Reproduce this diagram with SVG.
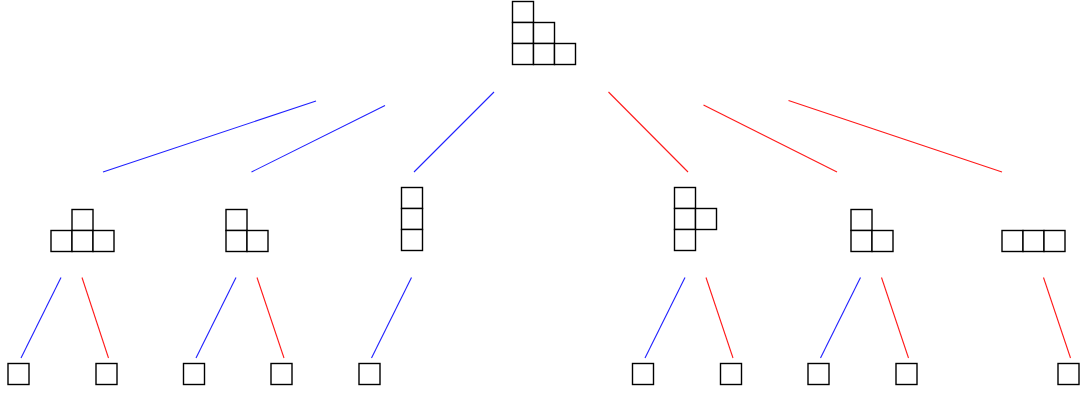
<svg xmlns="http://www.w3.org/2000/svg" width="1080" height="394" viewBox="0 0 1080 394">
  <style>
    .cell { fill: #ffffff; stroke: #000000; stroke-width: 1.4; }
    .blue { stroke: #2020ff; stroke-width: 1.1; fill: none; }
    .red { stroke: #ff1a1a; stroke-width: 1.1; fill: none; }
  </style>
  <defs>
    <rect id="c" class="cell" width="21" height="21"/>
  </defs>
  <rect width="1080" height="394" fill="#ffffff"/>

  <g id="edges">
    <!-- root to level 1 -->
    <line class="blue" x1="316" y1="101" x2="103" y2="172"/>
    <line class="blue" x1="385" y1="105.5" x2="251.5" y2="172"/>
    <line class="blue" x1="494" y1="92" x2="414" y2="172"/>
    <line class="red" x1="608.5" y1="92" x2="688" y2="172"/>
    <line class="red" x1="703.5" y1="105" x2="837" y2="172"/>
    <line class="red" x1="788.5" y1="100.5" x2="1002" y2="172"/>
    <!-- level 1 to leaves -->
    <line class="blue" x1="61" y1="277.5" x2="21" y2="358"/>
    <line class="red" x1="82" y1="277.5" x2="108.5" y2="358"/>
    <line class="blue" x1="236" y1="277.5" x2="196" y2="358"/>
    <line class="red" x1="257" y1="277.5" x2="284" y2="358"/>
    <line class="blue" x1="411.5" y1="277.5" x2="371.5" y2="358"/>
    <line class="blue" x1="685" y1="277.5" x2="645" y2="358"/>
    <line class="red" x1="706" y1="277.5" x2="733" y2="358"/>
    <line class="blue" x1="860.5" y1="277.5" x2="820.5" y2="358"/>
    <line class="red" x1="881.5" y1="277.5" x2="908.5" y2="358"/>
    <line class="red" x1="1043.5" y1="277.5" x2="1070.5" y2="358"/>
  </g>

  <g id="root">
    <use href="#c" x="512.5" y="1.5"/>
    <use href="#c" x="512.5" y="22.5"/>
    <use href="#c" x="533.5" y="22.5"/>
    <use href="#c" x="512.5" y="43.5"/>
    <use href="#c" x="533.5" y="43.5"/>
    <use href="#c" x="554.5" y="43.5"/>
  </g>

  <g id="n1">
    <use href="#c" x="72" y="209.5"/>
    <use href="#c" x="51" y="230.5"/>
    <use href="#c" x="72" y="230.5"/>
    <use href="#c" x="93" y="230.5"/>
  </g>
  <g id="n2">
    <use href="#c" x="226" y="209.5"/>
    <use href="#c" x="226" y="230.5"/>
    <use href="#c" x="247" y="230.5"/>
  </g>
  <g id="n3">
    <use href="#c" x="401.5" y="187.5"/>
    <use href="#c" x="401.5" y="208.5"/>
    <use href="#c" x="401.5" y="229.5"/>
  </g>
  <g id="n4">
    <use href="#c" x="674.5" y="187.5"/>
    <use href="#c" x="674.5" y="208.5"/>
    <use href="#c" x="695.5" y="208.5"/>
    <use href="#c" x="674.5" y="229.5"/>
  </g>
  <g id="n5">
    <use href="#c" x="851" y="209.5"/>
    <use href="#c" x="851" y="230.5"/>
    <use href="#c" x="872" y="230.5"/>
  </g>
  <g id="n6">
    <use href="#c" x="1002" y="230.5"/>
    <use href="#c" x="1023" y="230.5"/>
    <use href="#c" x="1044" y="230.5"/>
  </g>

  <g id="leaf1"><use href="#c" x="8" y="363.5"/></g>
  <g id="leaf2"><use href="#c" x="96" y="363.5"/></g>
  <g id="leaf3"><use href="#c" x="183.5" y="363.5"/></g>
  <g id="leaf4"><use href="#c" x="271" y="363.5"/></g>
  <g id="leaf5"><use href="#c" x="359" y="363.5"/></g>
  <g id="leaf6"><use href="#c" x="632.5" y="363.5"/></g>
  <g id="leaf7"><use href="#c" x="720.5" y="363.5"/></g>
  <g id="leaf8"><use href="#c" x="808" y="363.5"/></g>
  <g id="leaf9"><use href="#c" x="896" y="363.5"/></g>
  <g id="leaf10"><use href="#c" x="1058" y="363.5"/></g>
</svg>
